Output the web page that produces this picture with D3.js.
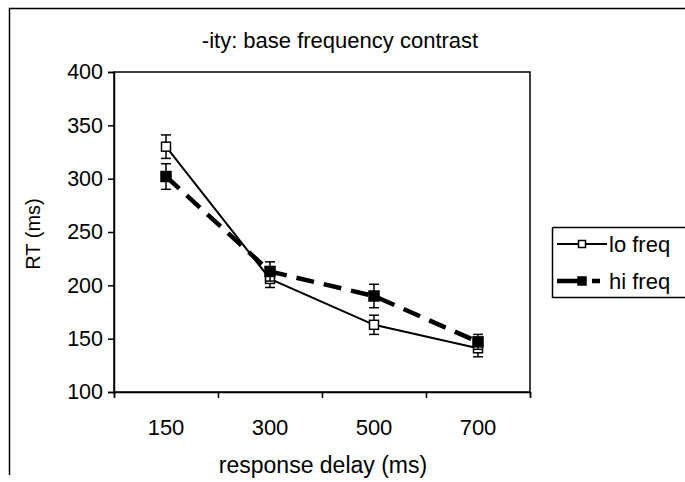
<!DOCTYPE html>
<html>
<head>
<meta charset="utf-8">
<script src="https://cdn.jsdelivr.net/npm/d3@7"></script>
<style>
  body { margin: 0; background: #fff; }
  text { font-family: "Liberation Sans", Arial, sans-serif; fill: #000; }
</style>
</head>
<body>
<svg id="chart"></svg>
<script>
/* données */
const delays = ['150', '300', '500', '700']
const loFreq = [330, 206, 163, 141]
const loErr = [11, 8, 9, 8]
const hiFreq = [302, 213, 190, 147]
const hiErr = [12, 9, 11, 7]
const yTicks = [100, 150, 200, 250, 300, 350, 400]

const width = 685, height = 482
const plot = {left: 114, right: 530, top: 72, bottom: 392}

const svg = d3.select('#chart').attr('width', width).attr('height', height)

/* cadre extérieur (gauche + haut) */
svg.append('path')
   .attr('d', 'M9.5,475 V8.5 H685')
   .attr('fill', 'none').attr('stroke', '#000').attr('stroke-width', 1.5)

/* échelles */
const xScale = d3.scaleBand().domain(delays).range([plot.left, plot.right]).padding(0)
const xEdges = d3.scaleLinear().domain([0, delays.length]).range([plot.left, plot.right])
const yScale = d3.scaleLinear().domain([100, 400]).range([plot.bottom, plot.top])
const xc = d => xScale(d) + xScale.bandwidth() / 2

/* zone de tracé */
svg.append('rect')
   .attr('x', plot.left).attr('y', plot.top)
   .attr('width', plot.right - plot.left).attr('height', plot.bottom - plot.top)
   .attr('fill', 'none').attr('stroke', '#000').attr('stroke-width', 1.5)

/* axe des y */
const yAxis = svg.append('g')
   .attr('transform', 'translate(' + plot.left + ',0)')
   .call(d3.axisLeft(yScale).tickValues(yTicks).tickSize(6).tickPadding(5))
yAxis.select('.domain').attr('stroke-width', 1.5)
yAxis.selectAll('.tick line').attr('stroke-width', 1.5)
yAxis.selectAll('text').style('font-size', '21.5px').attr('font-family', null)

/* axe des x : graduations aux limites, libellés au centre */
const xTickAxis = svg.append('g')
   .attr('transform', 'translate(0,' + plot.bottom + ')')
   .call(d3.axisBottom(xEdges).ticks(delays.length).tickSize(6).tickFormat(''))
xTickAxis.select('.domain').attr('stroke-width', 1.5)
xTickAxis.selectAll('.tick line').attr('stroke-width', 1.5)

const xLabAxis = svg.append('g')
   .attr('transform', 'translate(0,' + plot.bottom + ')')
   .call(d3.axisBottom(xScale).tickSize(0).tickPadding(27))
xLabAxis.select('.domain').remove()
xLabAxis.selectAll('text').style('font-size', '22px').attr('font-family', null)

/* titres */
svg.append('text')
   .attr('x', 340).attr('y', 48)
   .attr('text-anchor', 'middle')
   .style('font-size', '22px')
   .text('-ity: base frequency contrast')

svg.append('text')
   .attr('x', 323).attr('y', 473)
   .attr('text-anchor', 'middle')
   .style('font-size', '23px')
   .text('response delay (ms)')

svg.append('text')
   .attr('transform', 'rotate(-90)')
   .attr('x', -234).attr('y', 40)
   .attr('text-anchor', 'middle')
   .style('font-size', '20px')
   .text('RT (ms)')

/* séries */
const series = [
  {name: 'lo freq', values: loFreq, err: loErr, width: 2, dash: null, fill: '#fff', size: 9},
  {name: 'hi freq', values: hiFreq, err: hiErr, width: 4.5, dash: '18,10', fill: '#000', size: 10}
]

const line = d3.line().x(d => xc(d.x)).y(d => yScale(d.y))

series.forEach(s => {
  const pts = delays.map((d, i) => ({x: d, y: s.values[i], e: s.err[i]}))

  svg.append('path')
     .datum(pts)
     .attr('d', line)
     .attr('fill', 'none').attr('stroke', '#000')
     .attr('stroke-width', s.width)
     .attr('stroke-dasharray', s.dash)

  /* barres d'erreur */
  const eb = svg.append('g').selectAll('g').data(pts).enter().append('g')
  eb.append('line')
    .attr('x1', d => xc(d.x)).attr('x2', d => xc(d.x))
    .attr('y1', d => yScale(d.y - d.e)).attr('y2', d => yScale(d.y + d.e))
    .attr('stroke', '#000').attr('stroke-width', 1.5)
  eb.append('line')
    .attr('x1', d => xc(d.x) - 5).attr('x2', d => xc(d.x) + 5)
    .attr('y1', d => yScale(d.y - d.e)).attr('y2', d => yScale(d.y - d.e))
    .attr('stroke', '#000').attr('stroke-width', 1.5)
  eb.append('line')
    .attr('x1', d => xc(d.x) - 5).attr('x2', d => xc(d.x) + 5)
    .attr('y1', d => yScale(d.y + d.e)).attr('y2', d => yScale(d.y + d.e))
    .attr('stroke', '#000').attr('stroke-width', 1.5)

  /* marqueurs */
  svg.append('g').selectAll('rect').data(pts).enter().append('rect')
     .attr('x', d => xc(d.x) - s.size / 2).attr('y', d => yScale(d.y) - s.size / 2)
     .attr('width', s.size).attr('height', s.size)
     .attr('fill', s.fill).attr('stroke', '#000').attr('stroke-width', 1.5)
})

/* légende */
const legend = svg.append('g')
legend.append('path')
      .attr('d', 'M552.5,227.5 H685 M552.5,227.5 V297.5 H685')
      .attr('fill', 'none').attr('stroke', '#000').attr('stroke-width', 1.5)

series.forEach((s, i) => {
  const y = 244 + i * 37
  legend.append('line')
        .attr('x1', 557).attr('x2', s.dash ? 600 : 607).attr('y1', y).attr('y2', y)
        .attr('stroke', '#000').attr('stroke-width', s.width)
        .attr('stroke-dasharray', s.dash ? '27,8' : null)
  legend.append('rect')
        .attr('x', 582 - s.size / 2 + 1).attr('y', y - s.size / 2 + 1)
        .attr('width', s.size - 2).attr('height', s.size - 2)
        .attr('fill', s.fill).attr('stroke', '#000').attr('stroke-width', 1.5)
  legend.append('text')
        .attr('x', 609).attr('y', y + 8)
        .style('font-size', '22px')
        .text(s.name)
})
</script>
</body>
</html>
